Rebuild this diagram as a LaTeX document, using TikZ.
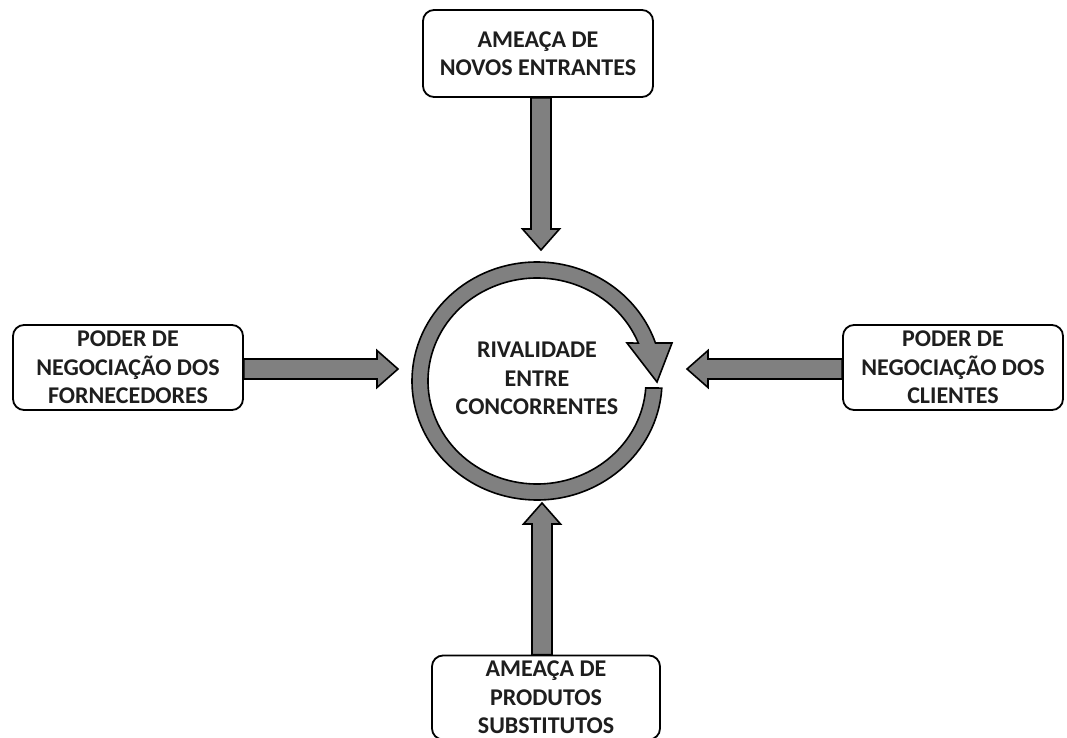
\documentclass[tikz,border=0pt]{standalone}
\usepackage{fontspec}
\setmainfont{Carlito}
\usetikzlibrary{calc,backgrounds}
\definecolor{arrowgray}{RGB}{128,128,128}
\definecolor{inkblack}{RGB}{30,30,30}
\tikzset{
  forcebox/.style={draw=black, line width=1.8pt, rounded corners=11pt, fill=white,
    align=center, inner sep=0pt, text=inkblack,
    font=\bfseries\fontsize{24}{28.5}\selectfont},
  centretext/.style={align=center, inner sep=0pt, text=inkblack,
    font=\bfseries\fontsize{24}{28.5}\selectfont},
  blockarrow/.style={draw=black, line width=1.6pt, fill=arrowgray, line join=miter},
}
% block arrow from #1 to the tip #2: shaft half width 10, head half width 18.5, head length 21
\newcommand\blockarr[2]{%
  \path (#1) coordinate (ba) (#2) coordinate (bt);
  \path ($(bt)!21pt!(ba)$) coordinate (bh);
  \draw[blockarrow] ($(ba)!10pt!90:(bt)$) -- ($(bh)!10pt!90:(bt)$)
    -- ($(bh)!18.5pt!90:(bt)$) -- (bt) -- ($(bh)!18.5pt!-90:(bt)$)
    -- ($(bh)!10pt!-90:(bt)$) -- ($(ba)!10pt!-90:(bt)$) -- cycle;}
\begin{document}
\begin{tikzpicture}[x=1pt, y=-1pt]
\useasboundingbox (0,0) rectangle (1067,738);

% the five forces
\node[forcebox, minimum width=230pt, minimum height=87pt] (entrants) at (538,53.5)
  {AMEAÇA DE\\NOVOS ENTRANTES};
\node[forcebox, minimum width=230pt, minimum height=85pt] (suppliers) at (128,367.5)
  {PODER DE\\NEGOCIAÇÃO DOS\\FORNECEDORES};
\node[forcebox, minimum width=220pt, minimum height=85pt] (clients) at (953,367.5)
  {PODER DE\\NEGOCIAÇÃO DOS\\CLIENTES};
\node[forcebox, minimum width=228pt, minimum height=84pt] (substitutes) at (546,697.5)
  {AMEAÇA DE\\PRODUTOS\\SUBSTITUTOS};

% central rivalry with its circular arrow
\coordinate (ringc) at (537,381);
\node[centretext] (rivalry) at (537,378.5) {RIVALIDADE\\ENTRE\\CONCORRENTES};
\draw[blockarrow] ($(ringc)+(3.4:125 and 119)$)
  arc[start angle=3.4, end angle=341.4, x radius=125, y radius=119]
  -- ($(ringc)+(135,-38)$) -- ($(ringc)+(120,1)$) -- ($(ringc)+(90,-38)$)
  -- ($(ringc)+(338.4:109 and 103)$)
  arc[start angle=338.4, end angle=3.9, x radius=109, y radius=103] -- cycle;

% arrow tips next to the ring
\coordinate (tipN) at (541,250);
\coordinate (tipW) at (398,369);
\coordinate (tipE) at (687,369);
\coordinate (tipS) at (542,503);

\begin{pgfonlayer}{background}
  \blockarr{entrants.south -| tipN}{tipN}
  \blockarr{suppliers.east |- tipW}{tipW}
  \blockarr{clients.west |- tipE}{tipE}
  \blockarr{substitutes.north -| tipS}{tipS}
\end{pgfonlayer}
\end{tikzpicture}
\end{document}
